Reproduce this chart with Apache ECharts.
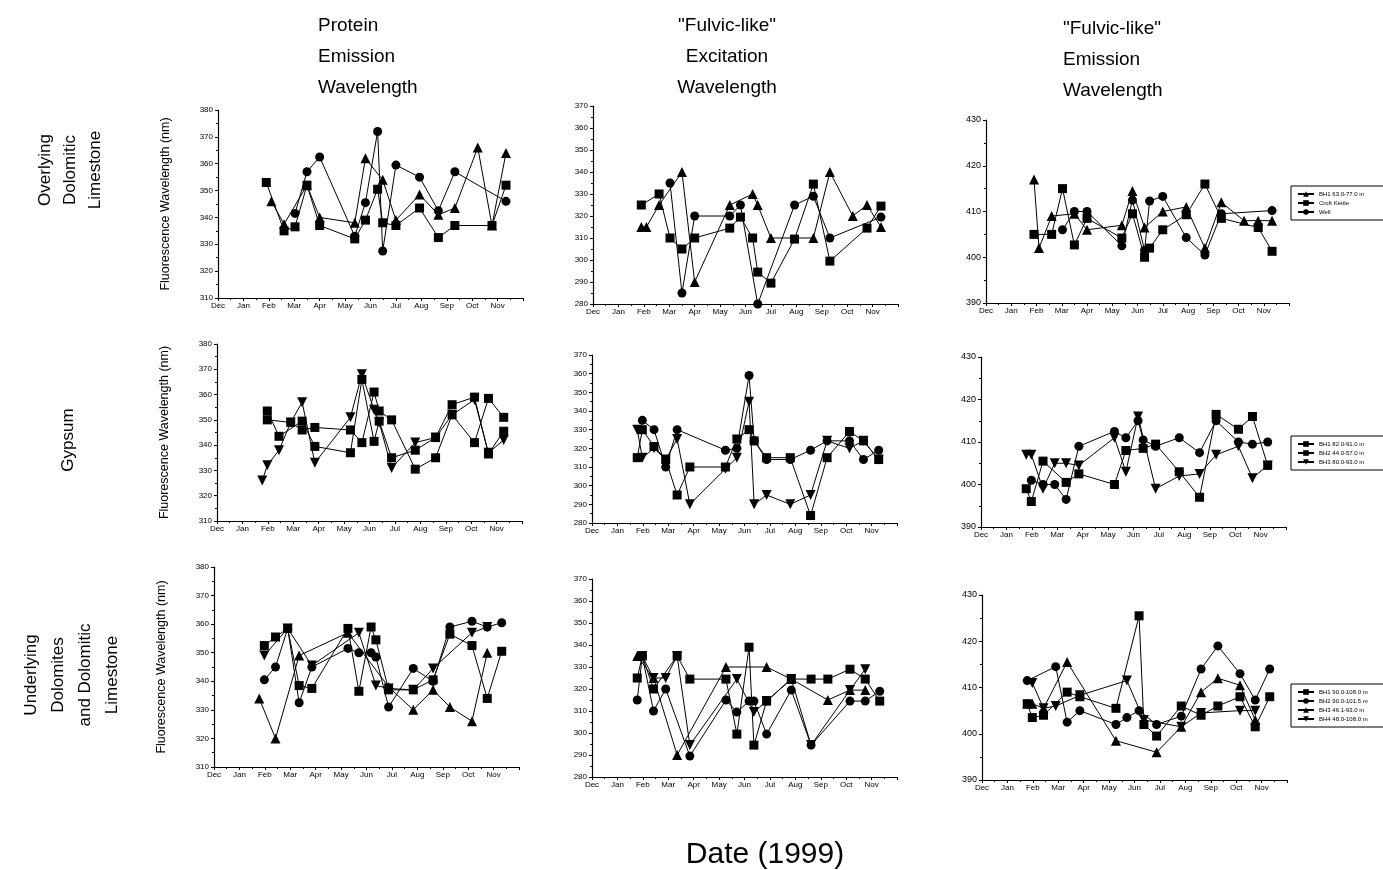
<!DOCTYPE html>
<html><head><meta charset="utf-8">
<script src="https://cdn.jsdelivr.net/npm/echarts/dist/echarts.min.js"></script>
<style>html,body{margin:0;padding:0;background:#fff}#c{width:1383px;height:870px}</style>
</head><body><div id="c"></div>
<script>
// ---- tick labels ----
const months = ['Dec','Jan','Feb','Mar','Apr','May','Jun','Jul','Aug','Sep','Oct','Nov'];
// ---- sampling dates (months after 1 Dec 1998) ----
const datesRow1 = [1.9, 2.1, 2.6, 3.03, 3.5, 4.0, 5.38, 5.8, 6.28, 6.48, 7.0, 7.93, 8.67, 9.32, 10.22, 10.78, 11.33];
const datesRow2 = [1.78, 1.98, 2.44, 2.9, 3.35, 3.85, 5.25, 5.7, 6.18, 6.38, 6.87, 7.8, 8.6, 9.25, 10.13, 10.68, 11.28];
const datesRow3 = [1.78, 1.98, 2.42, 2.9, 3.35, 3.85, 5.27, 5.7, 6.18, 6.37, 6.87, 7.84, 8.62, 9.28, 10.15, 10.75, 11.32];
// ---- series names ----
const namesRow1 = ['BH1 63.0-77.0 m', 'Croft Kettle', 'Well'];
const namesRow2 = ['BH1 82.0-91.0 m', 'BH2 44.0-57.0 m', 'BH3 80.0-93.0 m'];
const namesRow3 = ['BH1 90.0-108.0 m', 'BH2 90.0-101.5 m', 'BH3 46.1-93.0 m', 'BH4 48.0-108.0 m'];
// ---- Row 1: Overlying Dolomitic Limestone ----
const r1c1_BH1  = [null, 346, 337.5, null, 352, 340, 338, 362, null, 354, 339, 348.5, 341, 343.5, 366, 337, 364];
const r1c1_Croft= [353, null, 335, 336.5, 352, 337, 332, 339, 350.5, 338, 337, 343.5, 332.5, 337, null, 337, 352];
const r1c1_Well = [null, null, null, 341.5, 357, 362.5, 333, 345.5, 372, 327.5, 359.5, 355, 342.5, 357, null, null, 346];
const r1c2_BH1  = [315, 315, 325, null, 340, 290, 325, null, 330, 325, 310, null, 310, 340, 320, 325, 315];
const r1c2_Croft= [325, null, 330, 310, 305, 310, 314.5, 319.5, 310, 294.5, 289.5, 309.5, 334.5, 299.5, null, 314.5, 324.5];
const r1c2_Well = [null, null, null, 335, 285, 320, 320, 325, null, 280, null, 325, 329, 310, null, null, 319.5];
const r1c3_BH1  = [417, 402, 409, null, 409.5, 406, 407, 414.5, 406.5, null, 410, 411, 402, 412, 408, 408, 408];
const r1c3_Croft= [405, null, 405, 415, 402.7, 408.5, 404.2, 409.5, 400, 402, 406, 409.3, 416, 408.5, null, 406.5, 401.3];
const r1c3_Well = [null, null, null, 406, 410, 410, 402.5, 412.5, 401.5, 412.3, 413.3, 404.3, 400.5, 409.5, null, null, 410.2];
// ---- Row 2: Gypsum ----
const r2c1_BH1 = [null, 353.5, 343.5, null, 349.5, 339.5, 337, 366, 341.5, 349.5, 335, 338, 343, 356, 359, 336.5, 345.5];
const r2c1_BH2 = [null, 350, null, 349, 346, 347, 346, 341, 361, 353.5, 350, 330.5, 335, 352, 341, 358.5, 351];
const r2c1_BH3 = [326, 332, 338, 349, 357, 333, 351, 368, 354, 349, 331, 341, 343, 352, 358, 337, 342];
const r2c2_BH1 = [315, 330, 321, 314, 295, 310, 310, 325, 330, 324, 315, 315, 284, 315, 329, 324, 314];
const r2c2_BH2 = [null, 335, 330, 310, 330, null, 319, 320, 359, 324, 314, 314, 319, 324, 324, 314, 319];
const r2c2_BH3 = [330, 315, 320, 314, 325, 290, 309, 315, 345, 290, 295, 290, 295, 324, 320, 324, 314];
const r2c3_BH1 = [399, 396, 405.5, null, 400.5, 402.5, 400, 408, null, 408.5, 409.5, 403, 397, 416.5, 413, 416, 404.5];
const r2c3_BH2 = [null, 401, 400, 400, 396.5, 409, 412.5, 411, 415, 410.5, 409, 411, 407.5, 415, 410, 409.5, 410];
const r2c3_BH3 = [407, 407, 399, 405, 405, 404.5, 411, 403, 416, null, 399, 402, 402.5, 407, 409, 401.5, 404.5];
// ---- Row 3: Underlying Dolomites and Dolomitic Limestone ----
const r3c1_BH1 = [null, 352.5, 355.5, 358.5, 338.5, 337.5, 358.5, 336.5, 359, 354.5, 337, 337, 340.5, 356.5, 352.5, 334, 350.5];
const r3c1_BH2 = [null, 340.5, 345, 358.5, 332.5, 345, 351.5, 350, 350, 348.5, 331, 344.5, 340, 359, 361, 359, 360.5];
const r3c1_BH3 = [334, null, 320, null, 349, null, 357, null, null, null, 338, 330, 337, 331, 326, 350, null];
const r3c1_BH4 = [null, 349, null, 358.5, null, 345.5, null, 357, null, 338.5, 337.5, 337, 344.5, null, 357, 359, null];
const r3c2_BH1 = [325, 335, 320, null, 335, 324.5, 324.5, 299.5, 339, 294.5, 314.5, 324.5, 324.5, 324.5, 329, 324.5, 314.5];
const r3c2_BH2 = [315, 335, 310, 320, null, 289.5, 315, 309.5, 314.5, 314.5, 299.5, 319.5, 294.5, null, 314.5, 314.5, 319];
const r3c2_BH3 = [335, null, 325, null, 290, null, 330, null, null, null, 330, 324.5, null, 315, 319.5, 319.5, null];
const r3c2_BH4 = [null, 335, 325, 325, 335, 294.5, null, 324.5, null, 309.5, 314.5, 324.5, 294.5, null, 319.5, 329, null];
const r3c3_BH1 = [406.5, 403.5, 404, null, 409, 408, 405.5, null, 425.5, 402, 399.5, 406, 404, 406, 408, 401.5, 408];
const r3c3_BH2 = [411.5, null, null, 414.5, 402.5, 405, 402, 403.5, 405, null, 402, 403.8, 414, 419, 413, 407.3, 414];
const r3c3_BH3 = [406.5, 406.5, 405.5, null, 415.5, null, 398.5, null, null, null, 396, 401.5, 409, 412, 410.5, 403, null];
const r3c3_BH4 = [null, 411, 405.5, 406, null, 408.3, null, 411.5, null, 403, null, 401.5, 404.5, null, 405, 405, null];

// ---- layout (not data) ----
const FONT = 'Liberation Sans, Arial, sans-serif';
const panels = [
  {l:218,t:110,w:305,h:188,min:310,max:380},
  {l:593,t:106,w:305,h:198,min:280,max:370},
  {l:986,t:120,w:303,h:183,min:390,max:430},
  {l:217,t:344,w:305,h:177,min:310,max:380},
  {l:592,t:355,w:305,h:168,min:280,max:370},
  {l:981,t:357,w:305,h:170,min:390,max:430},
  {l:214,t:567,w:305,h:200,min:310,max:380},
  {l:592,t:579,w:305,h:198,min:280,max:370},
  {l:982,t:595,w:305,h:185,min:390,max:430}
];
const DOWN = 'path://M0,0 L10,0 L5,9 Z';
const SYM = {tri:'triangle', sq:'rect', ci:'circle', dn:DOWN};
const SIZE = {tri:10, sq:9, ci:9, dn:10};

const seriesDefs = [
  [0, namesRow1[0], 'tri', datesRow1, r1c1_BH1],
  [0, namesRow1[1], 'sq',  datesRow1, r1c1_Croft],
  [0, namesRow1[2], 'ci',  datesRow1, r1c1_Well],
  [1, namesRow1[0], 'tri', datesRow1, r1c2_BH1],
  [1, namesRow1[1], 'sq',  datesRow1, r1c2_Croft],
  [1, namesRow1[2], 'ci',  datesRow1, r1c2_Well],
  [2, namesRow1[0], 'tri', datesRow1, r1c3_BH1],
  [2, namesRow1[1], 'sq',  datesRow1, r1c3_Croft],
  [2, namesRow1[2], 'ci',  datesRow1, r1c3_Well],
  [3, namesRow2[0], 'sq',  datesRow2, r2c1_BH1],
  [3, namesRow2[1], 'sq',  datesRow2, r2c1_BH2],
  [3, namesRow2[2], 'dn',  datesRow2, r2c1_BH3],
  [4, namesRow2[0], 'sq',  datesRow2, r2c2_BH1],
  [4, namesRow2[1], 'ci',  datesRow2, r2c2_BH2],
  [4, namesRow2[2], 'dn',  datesRow2, r2c2_BH3],
  [5, namesRow2[0], 'sq',  datesRow2, r2c3_BH1],
  [5, namesRow2[1], 'ci',  datesRow2, r2c3_BH2],
  [5, namesRow2[2], 'dn',  datesRow2, r2c3_BH3],
  [6, namesRow3[0], 'sq',  datesRow3, r3c1_BH1],
  [6, namesRow3[1], 'ci',  datesRow3, r3c1_BH2],
  [6, namesRow3[2], 'tri', datesRow3, r3c1_BH3],
  [6, namesRow3[3], 'dn',  datesRow3, r3c1_BH4],
  [7, namesRow3[0], 'sq',  datesRow3, r3c2_BH1],
  [7, namesRow3[1], 'ci',  datesRow3, r3c2_BH2],
  [7, namesRow3[2], 'tri', datesRow3, r3c2_BH3],
  [7, namesRow3[3], 'dn',  datesRow3, r3c2_BH4],
  [8, namesRow3[0], 'sq',  datesRow3, r3c3_BH1],
  [8, namesRow3[1], 'ci',  datesRow3, r3c3_BH2],
  [8, namesRow3[2], 'tri', datesRow3, r3c3_BH3],
  [8, namesRow3[3], 'dn',  datesRow3, r3c3_BH4]
];

function pts(dates, vals){ const o=[]; vals.forEach((v,i)=>{ if(v!==null) o.push([dates[i], v]); }); return o; }

const grid = panels.map(p=>({left:p.l, top:p.t, width:p.w, height:p.h}));
const xAxis = panels.map((p,i)=>({
  type:'value', gridIndex:i, min:0, max:12, interval:1,
  axisLine:{show:true, onZero:false, lineStyle:{color:'#000', width:1.2}},
  axisTick:{show:true, length:3, lineStyle:{color:'#000'}},
  minorTick:{show:true, splitNumber:2, length:2, lineStyle:{color:'#000'}},
  splitLine:{show:false},
  axisLabel:{color:'#000', fontSize:8, fontFamily:FONT, margin:4,
    formatter:v=> (Number.isInteger(v) && v<12) ? months[v] : ''}
}));
const yAxis = panels.map((p,i)=>({
  type:'value', gridIndex:i, min:p.min, max:p.max, interval:10,
  axisLine:{show:true, onZero:false, lineStyle:{color:'#000', width:1.2}},
  axisTick:{show:true, length:3, lineStyle:{color:'#000'}},
  minorTick:{show:true, splitNumber:2, length:2, lineStyle:{color:'#000'}},
  splitLine:{show:false},
  axisLabel:{color:'#000', fontSize:(i%3===2)?9:8, fontFamily:FONT, margin:5},
  name: (i%3===0) ? 'Fluorescence Wavelength (nm)' : '',
  nameLocation:'middle', nameGap:46, nameRotate:90,
  nameTextStyle:{color:'#000', fontSize:12.5, fontFamily:FONT}
}));
const series = seriesDefs.map(d=>({
  type:'line', name:d[1], xAxisIndex:d[0], yAxisIndex:d[0],
  data: pts(d[3], d[4]),
  symbol: SYM[d[2]], symbolSize: SIZE[d[2]],
  itemStyle:{color:'#000'}, lineStyle:{color:'#000', width:1},
  animation:false, z:3
}));
const legendBase = {orient:'vertical', left:1291, itemWidth:16, itemHeight:7, itemGap:3,
  borderColor:'#000', borderWidth:1, padding:[5,20,5,6],
  textStyle:{fontSize:6, color:'#000', fontFamily:FONT}, selectedMode:false};
const legend = [
  Object.assign({}, legendBase, {top:186, data:namesRow1}),
  Object.assign({}, legendBase, {top:436, data:namesRow2}),
  Object.assign({}, legendBase, {top:684, data:namesRow3})
];
const T = (x,y,text,opt)=>Object.assign({type:'text', x, y, style:Object.assign({text, fill:'#000', font:'19px '+FONT}, opt||{})});
const graphic = [
  T(318,10,'Protein\nEmission\nWavelength',{lineHeight:31, textAlign:'left'}),
  T(727,10,'"Fulvic-like"\nExcitation\nWavelength',{lineHeight:31, textAlign:'center'}),
  T(1063,13,'"Fulvic-like"\nEmission\nWavelength',{lineHeight:31, textAlign:'left'}),
  {type:'text', x:70, y:170, rotation:Math.PI/2, style:{text:'Overlying\nDolomitic\nLimestone', fill:'#000', font:'17px '+FONT, lineHeight:25, textAlign:'center', textVerticalAlign:'middle'}},
  {type:'text', x:68, y:440, rotation:Math.PI/2, style:{text:'Gypsum', fill:'#000', font:'17px '+FONT, textAlign:'center', textVerticalAlign:'middle'}},
  {type:'text', x:72, y:675, rotation:Math.PI/2, style:{text:'Underlying\nDolomites\nand Dolomitic\nLimestone', fill:'#000', font:'17px '+FONT, lineHeight:27, textAlign:'center', textVerticalAlign:'middle'}},
  {type:'text', x:765, y:855, style:{text:'Date (1999)', fill:'#000', font:'30px '+FONT, textAlign:'center', textVerticalAlign:'middle'}}
];
const chart = echarts.init(document.getElementById('c'), null, {renderer:'canvas'});
chart.setOption({backgroundColor:'#fff', animation:false, grid, xAxis, yAxis, series, legend, graphic});
</script></body></html>
